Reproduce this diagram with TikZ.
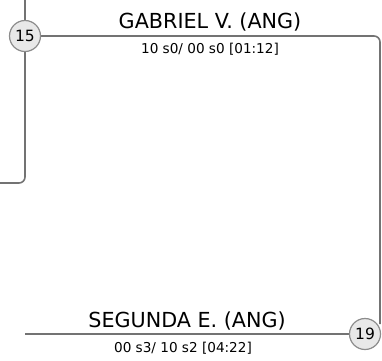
\documentclass[tikz,border=0pt]{standalone}
\usepackage{fontspec}
\setmainfont{DejaVu Sans}
\usetikzlibrary{backgrounds}

\begin{document}
\begin{tikzpicture}[x=1pt,y=-1pt,
  bracket/.style={draw=black!55,line width=1.6pt,rounded corners=6pt},
  seed/.style={circle,draw=black!45,line width=1.2pt,fill=black!9,
    minimum size=31pt,inner sep=0pt,font=\fontsize{15.5}{15.5}\selectfont},
  player/.style={anchor=base,font=\fontsize{20.7}{20.7}\selectfont},
  score/.style={anchor=base,font=\fontsize{13.6}{13.6}\selectfont}]
  \useasboundingbox (0,0) rectangle (382,360);

  % incoming bracket (left)
  \coordinate (inTop) at (25,0);
  \coordinate (inEnd) at (0,183);
  \draw[bracket] (inTop) |- (inEnd);

  % seeds
  \node[seed] (seedA) at (25,36) {15};
  \node[seed] (seedB) at (365,334) {19};

  % outgoing bracket and lower match line
  \coordinate (outEnd) at (380,324);
  \coordinate (lowStart) at (25,334);
  \begin{scope}[on background layer]
    \draw[bracket] (seedA) -| (outEnd);
    \draw[bracket] (lowStart) -- (seedB);
  \end{scope}

  % names and scores
  \node[player] (nameA) at (210,28) {GABRIEL V. (ANG)};
  \node[score] (scoreA) at (210,53) {10 s0/ 00 s0 [01:12]};
  \node[player] (nameB) at (187,327) {SEGUNDA E. (ANG)};
  \node[score] (scoreB) at (183,352) {00 s3/ 10 s2 [04:22]};
\end{tikzpicture}
\end{document}
